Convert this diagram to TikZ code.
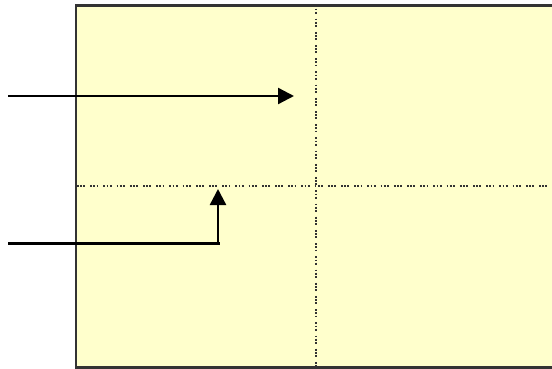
\documentclass[tikz,border=0pt]{standalone}
\usepackage{tikz}
\usetikzlibrary{arrows.meta, positioning, calc}

\definecolor{paneyellow}{HTML}{FFFFCC}
\definecolor{frameline}{HTML}{333333}

\begin{document}
\begin{tikzpicture}[
  x=1pt, y=-1pt,
  pane/.style={draw=frameline, line width=2.2pt, fill=paneyellow},
  divider/.style={frameline, line width=2pt, dash pattern=on 1.8pt off 1.4pt on 1.8pt off 1.4pt on 1.8pt off 5pt},
  arr/.style={-{Triangle[length=16pt, width=16pt]}, line width=2.4pt, black},
]
\useasboundingbox (0,0) rectangle (552,369);
\clip (0,0) rectangle (552,369);

% Pane
\draw[pane] (76,5.5) rectangle (600,367.5);

% Dividers
\coordinate (vtop) at (316,5.5);
\coordinate (vbot) at (316,369);
\coordinate (hleft) at (77,186);
\coordinate (hright) at (552,186);
\draw[divider] (vtop) -- (vbot);
\draw[divider] (hleft) -- (hright);

% Arrows
\coordinate (upsrc) at (8,96);
\coordinate (uptip) at (294,96);
\coordinate (lowsrc) at (8,243.5);
\coordinate (lowbend) at (218,243.5);
\coordinate (lowtip) at (218,189);
\draw[arr] (upsrc) -- (uptip);
\draw[line width=2.4pt] (lowsrc) -- ($(lowbend)+(2,0)$);
\draw[arr] (lowbend) -- (lowtip);

\end{tikzpicture}
\end{document}
